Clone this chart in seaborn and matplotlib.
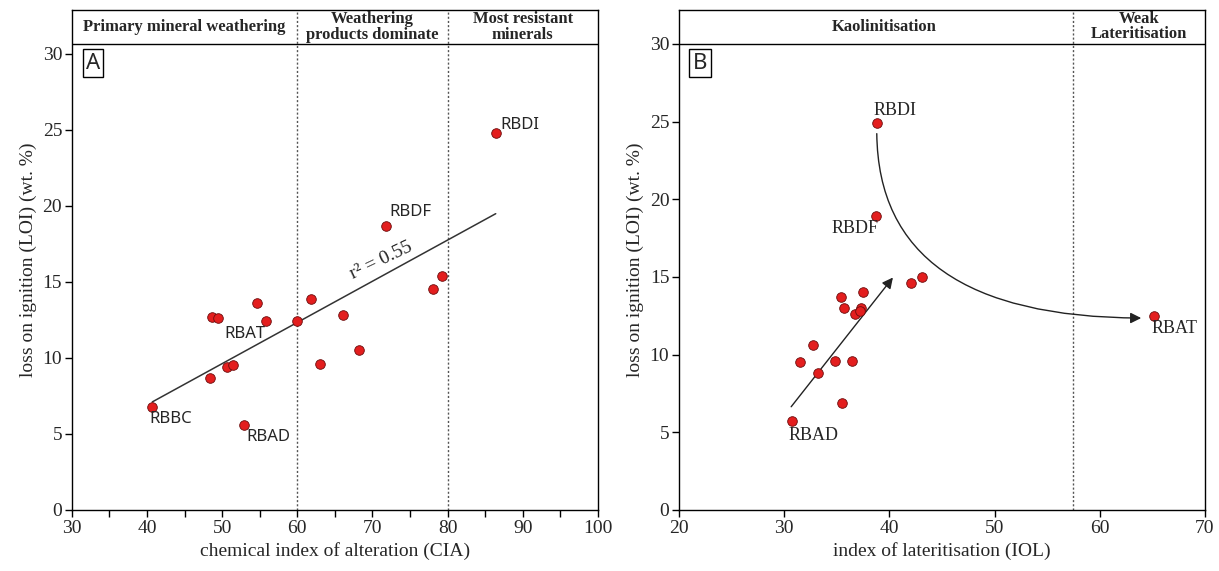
import numpy as np
import pandas as pd
import matplotlib.pyplot as plt
import seaborn as sns
from matplotlib.patches import FancyArrowPatch

# panel A: CIA vs LOI
cia = [86.4, 71.8, 79.3, 78.0, 61.8, 54.6, 48.7, 49.4, 55.8, 60.0,
       66.1, 68.2, 63.0, 50.6, 51.4, 48.4, 40.7, 52.9]
loi_a = [24.8, 18.7, 15.4, 14.5, 13.9, 13.6, 12.7, 12.6, 12.4, 12.4,
         12.8, 10.5, 9.6, 9.4, 9.5, 8.7, 6.8, 5.6]

# panel B: IOL vs LOI
iol = [38.8, 38.7, 43.1, 42.1, 37.5, 35.4, 35.7, 37.3, 36.7, 37.2,
       32.7, 31.5, 34.8, 36.4, 33.2, 35.5, 30.7, 65.2]
loi_b = [24.9, 18.9, 15.0, 14.6, 14.0, 13.7, 13.0, 13.0, 12.6, 12.8,
         10.6, 9.5, 9.6, 9.6, 8.8, 6.9, 5.7, 12.5]

labels_a = ['RBDI', 'RBDF', 'RBAT', 'RBBC', 'RBAD']
labels_a_xy = [(87.0, 25.3), (72.2, 19.6), (50.3, 11.6), (40.3, 6.0), (53.2, 4.8)]
labels_b = ['RBDI', 'RBDF', 'RBAD', 'RBAT']
labels_b_xy = [(38.5, 25.7), (34.5, 18.1), (30.4, 4.8), (64.9, 11.7)]

zones_a = ['Primary mineral weathering', 'Weathering\nproducts dominate', 'Most resistant\nminerals']
zones_a_x = [45, 70, 90]
zones_b = ['Kaolinitisation', 'Weak\nLateritisation']
zones_b_x = [39.5, 63.75]

df_a = pd.DataFrame({'cia': cia, 'loi': loi_a})
df_b = pd.DataFrame({'iol': iol, 'loi': loi_b})

sns.set_theme(style="ticks")
plt.rcParams['font.family'] = ['Liberation Serif', 'DejaVu Serif']
plt.rcParams['axes.edgecolor'] = 'black'
plt.rcParams['axes.linewidth'] = 1.0

fig = plt.figure(figsize=(12.19, 5.71), dpi=100)
axA = fig.add_axes([0.059, 0.107, 0.4315, 0.876])
axB = fig.add_axes([0.557, 0.107, 0.4315, 0.876])

red = '#e31e1e'
edge = '#6b0c0c'
dot = dict(color='#555555', linestyle=(0, (1.5, 1.5)), linewidth=1.0, zorder=1)

# ---- panel A
sns.regplot(data=df_a, x='cia', y='loi', ax=axA, scatter=False, ci=None, truncate=True,
            line_kws={'color': '#333333', 'linewidth': 1.1, 'zorder': 2})
sns.scatterplot(data=df_a, x='cia', y='loi', ax=axA, color=red, edgecolor=edge,
                linewidth=0.6, s=48, zorder=3)
axA.set_xlim(30, 100)
axA.set_ylim(0, 32.9)
axA.axhline(30.65, color='black', linewidth=1.0)
for xv in [60, 80]:
    axA.axvline(xv, **dot)
for t, xv in zip(zones_a, zones_a_x):
    axA.text(xv, 31.75, t, ha='center', va='center', fontsize=12, fontweight='bold',
             linespacing=0.95)
for t, (xv, yv) in zip(labels_a, labels_a_xy):
    axA.text(xv, yv, t, ha='left', va='center', fontsize=12, family='Noto Sans')
axA.text(71.2, 16.4, 'r\u00b2 = 0.55', ha='center', va='center', fontsize=14,
         rotation=25.5)
axA.set_xticks(np.arange(30, 101, 10))
axA.set_xticks(np.arange(35, 100, 10), minor=True)
axA.set_xlabel('chemical index of alteration (CIA)', fontsize=14)

# ---- panel B
sns.scatterplot(data=df_b, x='iol', y='loi', ax=axB, color=red, edgecolor=edge,
                linewidth=0.6, s=48, zorder=3)
axB.set_xlim(20, 70)
axB.set_ylim(0, 32.2)
axB.axhline(30, color='black', linewidth=1.0)
axB.axvline(57.5, **dot)
for t, xv in zip(zones_b, zones_b_x):
    axB.text(xv, 31.1, t, ha='center', va='center', fontsize=12, fontweight='bold',
             linespacing=0.95)
for t, (xv, yv) in zip(labels_b, labels_b_xy):
    axB.text(xv, yv, t, ha='left', va='center', fontsize=13)
axB.add_patch(FancyArrowPatch((30.5, 6.5), (40.5, 15.1), arrowstyle='-|>',
                              mutation_scale=16, color='#222222', linewidth=1.0, zorder=2))
axB.add_patch(FancyArrowPatch((38.8, 24.4), (64.2, 12.35), arrowstyle='-|>',
                              connectionstyle='angle3,angleA=90,angleB=0',
                              mutation_scale=16, color='#222222', linewidth=1.0, zorder=2))
axB.set_xticks(np.arange(20, 71, 10))
axB.set_xlabel('index of lateritisation (IOL)', fontsize=14)

for ax, letter in [(axA, 'A'), (axB, 'B')]:
    ax.set_yticks(np.arange(0, 31, 5))
    ax.set_ylabel('loss on ignition (LOI) (wt. %)', fontsize=14)
    ax.tick_params(which='both', direction='out', length=5, width=1, color='black',
                   labelsize=14, pad=2)
    for s in ax.spines.values():
        s.set_visible(True)
        s.set_color('black')
    ax.text(0.04, 0.893, letter, transform=ax.transAxes, ha='center', va='center',
            fontsize=16, family='Noto Sans',
            bbox=dict(boxstyle='square,pad=0.15', facecolor='white', edgecolor='black',
                      linewidth=1.0))

fig.savefig('out.png', dpi=100)
